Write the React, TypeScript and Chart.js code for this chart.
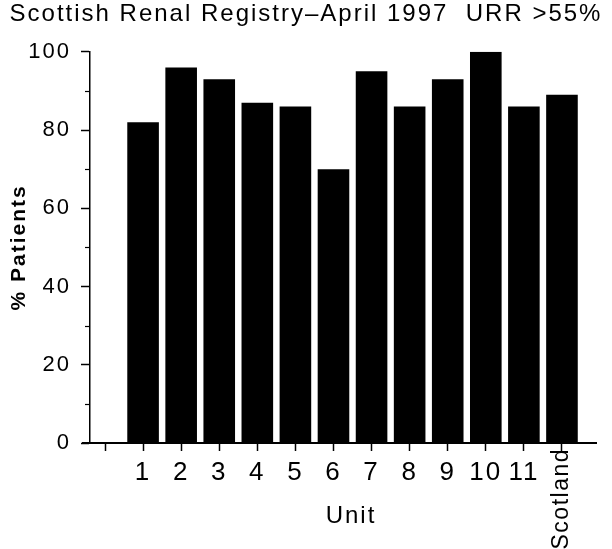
import React, { useEffect, useRef } from "react";
import { Chart, registerables } from "chart.js";

Chart.register(...registerables);

// ---- Data ----
const units: string[] = ["1", "2", "3", "4", "5", "6", "7", "8", "9", "10", "11", "Scotland"];
const percentPatients: number[] = [82, 96, 93, 87, 86, 70, 95, 86, 93, 100, 86, 89];
const rotatedUnits: string[] = ["Scotland"];
const yMajorTicks: number[] = [0, 20, 40, 60, 80, 100];
const yMinorTicks: number[] = [10, 30, 50, 70, 90];

const titleText = "Scottish Renal Registry\u2013April 1997  URR >55%";
const xTitle = "Unit";
const yTitle = "% Patients";

// x positions (index 0 is an empty slot before unit 1)
const xMin = -0.394;
const xMax = 13.314;
const xAxisEnd = 12.92;

const FONT = "'Liberation Sans', Arial, Helvetica, sans-serif";
const SPACING = "2px";

const setSpacing = (chart: any) => {
  try {
    (chart.ctx as any).letterSpacing = SPACING;
  } catch (e) {}
};

const decorPlugin = {
  id: "decor",
  beforeUpdate(chart: any) {
    setSpacing(chart);
  },
  beforeLayout(chart: any) {
    setSpacing(chart);
  },
  beforeDraw(chart: any) {
    setSpacing(chart);
  },
  afterDraw(chart: any) {
    const ctx = chart.ctx;
    const xs = chart.scales.x;
    const ys = chart.scales.y;
    const area = chart.chartArea;
    ctx.save();
    (ctx as any).letterSpacing = "1.5px";
    ctx.strokeStyle = "#000";
    // x axis line, extending slightly left of the y axis
    ctx.lineWidth = 2;
    ctx.beginPath();
    ctx.moveTo(area.left - 8, area.bottom);
    ctx.lineTo(xs.getPixelForValue(xAxisEnd), area.bottom);
    ctx.stroke();
    // minor y ticks
    ctx.lineWidth = 1.2;
    yMinorTicks.forEach((v) => {
      const py = Math.round(ys.getPixelForValue(v)) + 0.5;
      ctx.beginPath();
      ctx.moveTo(area.left - 5, py);
      ctx.lineTo(area.left, py);
      ctx.stroke();
    });
    // rotated category labels
    ctx.fillStyle = "#000";
    ctx.font = `23px ${FONT}`;
    ctx.textAlign = "right";
    ctx.textBaseline = "middle";
    units.forEach((u, i) => {
      if (!rotatedUnits.includes(u)) return;
      const px = xs.getPixelForValue(i + 1);
      ctx.save();
      ctx.translate(px, area.bottom + 5);
      ctx.rotate(-Math.PI / 2);
      ctx.fillText(u, 0, 0);
      ctx.restore();
    });
    ctx.restore();
  },
};

export default function App() {
  const canvasRef = useRef<HTMLCanvasElement | null>(null);

  useEffect(() => {
    document.body.style.margin = "0";
    const canvas = canvasRef.current;
    if (!canvas) return;
    Chart.defaults.font.family = FONT;
    Chart.defaults.color = "#000";

    const chart = new Chart(canvas, {
      type: "bar",
      data: {
        datasets: [
          {
            label: yTitle,
            data: percentPatients.map((v, i) => ({ x: i + 1, y: v })),
            backgroundColor: "#000",
            borderWidth: 0,
            barPercentage: 0.83,
            categoryPercentage: 1,
          },
        ],
      },
      options: {
        animation: false,
        responsive: false,
        layout: { padding: 0 },
        plugins: {
          legend: { display: false },
          tooltip: { enabled: false },
          title: {
            display: true,
            text: titleText,
            color: "#000",
            font: { size: 24, weight: "normal", family: FONT },
            padding: { top: 0, bottom: 23 },
          },
        },
        scales: {
          x: {
            type: "linear",
            min: xMin,
            max: xMax,
            offset: false,
            afterBuildTicks: (scale: any) => {
              scale.ticks = [0, ...units.map((_, i) => i + 1)].map((v) => ({ value: v }));
            },
            afterFit: (scale: any) => {
              scale.height = 106;
            },
            ticks: {
              autoSkip: false,
              maxRotation: 0,
              minRotation: 0,
              padding: 6,
              color: "#000",
              font: { size: 26, family: FONT },
              callback: (value: any) => {
                const idx = Math.round(Number(value));
                if (idx < 1 || idx > units.length) return "";
                const u = units[idx - 1];
                return rotatedUnits.includes(u) ? "" : u;
              },
            },
            grid: {
              display: true,
              offset: false,
              drawOnChartArea: false,
              drawTicks: true,
              tickLength: 8,
              tickWidth: 1.5,
              tickColor: "#000",
            },
            border: { display: false },
            title: {
              display: true,
              text: xTitle,
              color: "#000",
              font: { size: 24, family: FONT },
              padding: { top: 0, bottom: 18 },
            },
          },
          y: {
            type: "linear",
            min: 0,
            max: 100,
            afterBuildTicks: (scale: any) => {
              scale.ticks = yMajorTicks.map((v) => ({ value: v }));
            },
            afterFit: (scale: any) => {
              scale.width = 90;
            },
            ticks: {
              padding: 10,
              color: "#000",
              font: { size: 22, family: FONT },
            },
            grid: {
              display: true,
              drawOnChartArea: false,
              drawTicks: true,
              tickLength: 9,
              tickWidth: 1.5,
              tickColor: "#000",
            },
            border: { display: true, color: "#000", width: 1.5 },
            title: {
              display: true,
              text: yTitle,
              color: "#000",
              font: { size: 21, weight: "bold", family: FONT },
              padding: { top: 7, bottom: 0 },
            },
          },
        },
      },
      plugins: [decorPlugin],
    } as any);

    return () => {
      chart.destroy();
    };
  }, []);

  return (
    <div style={{ width: 612, height: 549 }}>
      <canvas ref={canvasRef} width={612} height={549} style={{ display: "block" }} />
    </div>
  );
}
